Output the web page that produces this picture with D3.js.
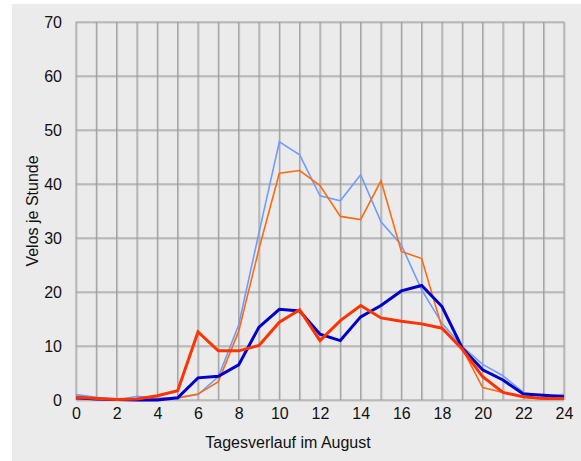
<!DOCTYPE html>
<html>
<head>
  <meta charset="utf-8">
  <script src="https://d3js.org/d3.v7.min.js"></script>
  <style>
  body {
    margin: 0;
    background: #fff;
  }
  text {
    font-family: "Liberation Sans", Arial, sans-serif;
    fill: #111;
  }
</style>
</head>
<body>
<script>

  // hours of the day 0..24
  var hours = d3.range(0, 25);
  var yTicks = [0, 10, 20, 30, 40, 50, 60, 70];
  var xTicks = [0, 2, 4, 6, 8, 10, 12, 14, 16, 18, 20, 22, 24];

  // thin light blue
  var seriesA = [1.0, 0.5, 0.0, 0.7, 0.3, 0.4, 1.0, 4.3, 13.9, 31.0, 47.8, 45.4, 37.8, 36.9, 41.7, 33.0, 28.7, 20.4, 14.2, 9.9, 6.6, 4.5, 1.4, 0.8, 1.0];
  // thin orange
  var seriesB = [0.2, 0.1, 0.1, 0.1, 0.2, 0.4, 1.1, 3.4, 12.7, 28.0, 42.0, 42.5, 39.7, 34.0, 33.4, 40.6, 27.5, 26.2, 13.4, 9.5, 2.3, 1.4, 0.5, 0.2, 0.3];
  // thick dark blue
  var seriesC = [0.4, 0.2, 0.1, 0.0, 0.0, 0.4, 4.1, 4.4, 6.5, 13.5, 16.8, 16.5, 12.2, 11.0, 15.4, 17.5, 20.2, 21.2, 17.3, 9.6, 5.6, 3.7, 1.1, 0.9, 0.6];
  // thick red
  var seriesD = [0.5, 0.3, 0.1, 0.2, 0.8, 1.7, 12.6, 9.1, 9.1, 10.1, 14.4, 16.7, 11.0, 14.7, 17.5, 15.2, 14.6, 14.1, 13.3, 9.4, 4.3, 1.4, 0.6, 0.3, 0.3];

  var W = 581, H = 461;
  var margin = {top: 22, right: 17, bottom: 61, left: 76},
    width = W - margin.left - margin.right,
    height = H - margin.top - margin.bottom;

  var root = d3.select("body").append("svg")
    .attr("width", W)
    .attr("height", H);

  root.append("rect")
    .attr("x", 12).attr("y", 4)
    .attr("width", W - 12).attr("height", H - 4)
    .attr("fill", "#ebebeb");

  var svg = root.append("g")
    .attr("transform", "translate(" + margin.left + "," + margin.top + ")");

  var x = d3.scaleLinear().domain([0, 24]).range([0, width]);
  var y = d3.scaleLinear().domain([0, 70]).range([height, 0]);

  // grid: dark line with a light shadow
  var grid = svg.append("g");
  grid.selectAll(".vs").data(hours).enter().append("line")
    .attr("x1", d => x(d) + 1).attr("x2", d => x(d) + 1)
    .attr("y1", 0).attr("y2", height)
    .attr("stroke", "#c4c4c4").attr("stroke-width", 1);
  grid.selectAll(".hs").data(yTicks).enter().append("line")
    .attr("x1", 0).attr("x2", width)
    .attr("y1", d => y(d) + 1).attr("y2", d => y(d) + 1)
    .attr("stroke", "#c4c4c4").attr("stroke-width", 1);
  grid.selectAll(".v").data(hours).enter().append("line")
    .attr("x1", d => x(d)).attr("x2", d => x(d))
    .attr("y1", 0).attr("y2", height)
    .attr("stroke", "#9a9a9a").attr("stroke-width", 1);
  grid.selectAll(".h").data(yTicks).enter().append("line")
    .attr("x1", 0).attr("x2", width)
    .attr("y1", d => y(d)).attr("y2", d => y(d))
    .attr("stroke", "#9a9a9a").attr("stroke-width", 1);

  var xAxis = d3.axisBottom(x).tickValues(xTicks).tickSize(0).tickPadding(8);
  var yAxis = d3.axisLeft(y).tickValues(yTicks).tickSize(0).tickPadding(14);

  var gx = svg.append("g")
    .attr("transform", "translate(0," + height + ")")
    .call(xAxis);
  gx.select(".domain").remove();
  gx.selectAll("text").style("font-size", "16px").attr("fill", "#111");

  var gy = svg.append("g").call(yAxis);
  gy.select(".domain").remove();
  gy.selectAll("text").style("font-size", "16px").attr("fill", "#111");

  var line = d3.line()
    .x((d, i) => x(hours[i]))
    .y(d => y(d));

  var styles = [
    {data: seriesA, color: "#6f9cff", w: 1.6},
    {data: seriesB, color: "#ff6a10", w: 1.6},
    {data: seriesC, color: "#0000c8", w: 3},
    {data: seriesD, color: "#ff3300", w: 3}
  ];

  svg.selectAll(".series")
    .data(styles)
    .enter().append("path")
    .attr("d", d => line(d.data))
    .attr("fill", "none")
    .attr("stroke", d => d.color)
    .attr("stroke-width", d => d.w)
    .attr("stroke-linejoin", "miter");

  root.append("text")
    .attr("x", 288).attr("y", 448)
    .attr("text-anchor", "middle")
    .style("font-size", "16px")
    .text("Tagesverlauf im August");

  root.append("text")
    .attr("transform", "translate(38," + (margin.top + height / 2) + ") rotate(-90)")
    .attr("text-anchor", "middle")
    .style("font-size", "16px")
    .text("Velos je Stunde");

</script>
</body>
</html>
